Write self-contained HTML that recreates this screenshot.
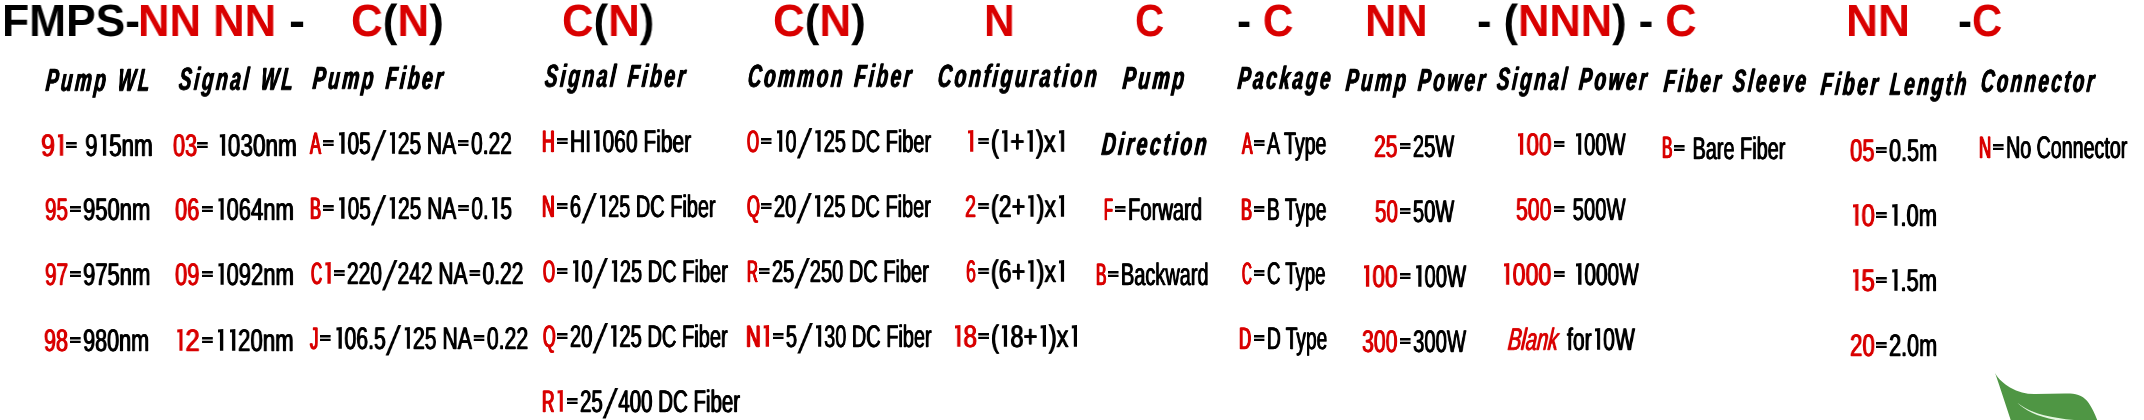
<!DOCTYPE html>
<html><head><meta charset="utf-8"><title>Ordering Information</title><style>
html,body{margin:0;padding:0;background:#fff}
#pg{text-rendering:geometricPrecision;position:relative;width:2144px;height:420px;overflow:hidden;background:#fff;font-family:"Liberation Sans",sans-serif;color:#000}
#pg span{position:absolute;white-space:nowrap;transform-origin:0 0;line-height:1.2;will-change:transform}
.r{color:#d90000;font-style:inherit;font-weight:inherit}
.t{font-size:45px;font-weight:bold}
.h{font-size:31.98px;-webkit-text-stroke-width:0.3px;text-shadow:0.8px 0 0,-0.8px 0 0;letter-spacing:4.5px;word-spacing:3px;font-weight:bold;font-style:italic}
.b,.br,.bri{font-size:31.1px;-webkit-text-stroke-width:0.4px;text-shadow:0.7px 0 0,-0.7px 0 0;}
.brc{font-size:30.96px;-webkit-text-stroke-width:0.5px;text-shadow:1.2px 0 0,-1.2px 0 0;}
.br,.bri,.brc{color:#d90000}
.bri{font-style:italic}
.e{display:inline-block;height:6.1px;vertical-align:8px;fill:currentColor;overflow:visible}
.o{display:inline-block;height:21.8px;vertical-align:0;fill:currentColor;overflow:visible}
.s{display:inline-block;height:30.4px;vertical-align:-6.2px;fill:currentColor;overflow:visible}
</style></head>
<body><div id="pg">
<svg style="position:absolute;left:0;top:0" width="2144" height="420" viewBox="0 0 2144 420">
<path d="M1995.1 373.1C1998 379 2004 384 2010 387.5C2018 392 2026 394 2034 394.1C2046 394.2 2058 393.3 2070 393.6C2078 393.8 2084.5 397 2088.7 403C2092 408 2095 414 2097.6 421L2011 421C2006.5 407 2001 390.5 1995.1 373.1Z" fill="#4f9644"/>
<path d="M2017.3 402.8C2025 409 2034 412.6 2044 415.2C2054 417.6 2064 419 2076 420.2L2076 421.5L2062 421C2050 419.5 2040 416.5 2032 412.8C2026 410 2021 406.5 2017.3 402.8Z" fill="#e4f6e0"/>
</svg>
<span class="t" style="left:2.02px;top:-6.10px;transform:scaleX(0.9858)">FMPS-</span>
<span class="t" style="left:137.82px;top:-6.10px;transform:scaleX(0.9693)"><b class="r">NN NN</b></span>
<span class="t" style="left:288.85px;top:-6.10px;transform:scaleX(1.0731)">-</span>
<span class="t" style="left:350.68px;top:-6.10px;transform:scaleX(0.9770)"><b class="r">C</b>(<b class="r">N</b>)</span>
<span class="t" style="left:562.19px;top:-6.10px;transform:scaleX(0.9715)"><b class="r">C</b>(<b class="r">N</b>)</span>
<span class="t" style="left:772.93px;top:-6.10px;transform:scaleX(0.9770)"><b class="r">C</b>(<b class="r">N</b>)</span>
<span class="t" style="left:984.40px;top:-6.10px;transform:scaleX(0.9454)"><b class="r">N</b></span>
<span class="t" style="left:1134.58px;top:-6.10px;transform:scaleX(0.8991)"><b class="r">C</b></span>
<span class="t" style="left:1236.59px;top:-6.10px;transform:scaleX(0.9404)">- <b class="r">C</b></span>
<span class="t" style="left:1365.34px;top:-6.10px;transform:scaleX(0.9628)"><b class="r">NN</b></span>
<span class="t" style="left:1476.54px;top:-6.10px;transform:scaleX(0.9653)">- (<b class="r">NNN</b>) - <b class="r">C</b></span>
<span class="t" style="left:1846.28px;top:-6.10px;transform:scaleX(0.9840)"><b class="r">NN</b></span>
<span class="t" style="left:1957.60px;top:-6.10px;transform:scaleX(0.9314)">-<b class="r">C</b></span>
<span class="h" style="left:47.95px;top:60.65px;transform:scaleX(0.5841) skewX(-9deg)">Pump WL</span>
<span class="h" style="left:181.03px;top:60.45px;transform:scaleX(0.5893) skewX(-9deg)">Signal WL</span>
<span class="h" style="left:315.28px;top:58.65px;transform:scaleX(0.5913) skewX(-9deg)">Pump Fiber</span>
<span class="h" style="left:546.95px;top:56.55px;transform:scaleX(0.5950) skewX(-9deg)">Signal Fiber</span>
<span class="h" style="left:750.19px;top:57.05px;transform:scaleX(0.5864) skewX(-9deg)">Common Fiber</span>
<span class="h" style="left:940.34px;top:56.65px;transform:scaleX(0.6024) skewX(-9deg)">Configuration</span>
<span class="h" style="left:1125.02px;top:59.25px;transform:scaleX(0.5980) skewX(-9deg)">Pump</span>
<span class="h" style="left:1239.98px;top:58.55px;transform:scaleX(0.5907) skewX(-9deg)">Package</span>
<span class="h" style="left:1347.56px;top:61.15px;transform:scaleX(0.5858) skewX(-9deg)">Pump Power</span>
<span class="h" style="left:1499.43px;top:59.65px;transform:scaleX(0.5908) skewX(-9deg)">Signal Power</span>
<span class="h" style="left:1665.67px;top:62.25px;transform:scaleX(0.5892) skewX(-9deg)">Fiber Sleeve</span>
<span class="h" style="left:1823.48px;top:65.05px;transform:scaleX(0.5903) skewX(-9deg)">Fiber Length</span>
<span class="h" style="left:1982.76px;top:62.35px;transform:scaleX(0.5768) skewX(-9deg)">Connector</span>
<span class="h" style="left:1104.32px;top:124.95px;transform:scaleX(0.5991) skewX(-9deg)">Direction</span>
<span class="br" style="left:41.41px;top:126.55px;transform:scaleX(0.8008)">9<svg class="o" style="width:6.6px;margin:0 3.7px 0 4.0px" viewBox="0 0 5.3 21.8" preserveAspectRatio="none"><path d="M0 .5L5.3 0V21.8H2.1V3.3L0 3.6z"/></svg></span>
<span class="b" style="left:64.09px;top:126.55px;transform:scaleX(0.7199)"><svg class="e" style="width:14.7px;margin:0 3.3px 0 2.8px" viewBox="0 0 10 6.1" preserveAspectRatio="none"><path d="M0 0h10v2.4H0zM0 3.7h10v2.4H0z"/></svg> 9<svg class="o" style="width:7.4px;margin:0 4.2px 0 4.4px" viewBox="0 0 5.3 21.8" preserveAspectRatio="none"><path d="M0 .5L5.3 0V21.8H2.1V3.3L0 3.6z"/></svg>5nm</span>
<span class="br" style="left:44.51px;top:191.30px;transform:scaleX(0.6627)">95</span>
<span class="b" style="left:67.88px;top:191.30px;transform:scaleX(0.7082)"><svg class="e" style="width:15.0px;margin:0 3.4px 0 2.8px" viewBox="0 0 10 6.1" preserveAspectRatio="none"><path d="M0 0h10v2.4H0zM0 3.7h10v2.4H0z"/></svg>950nm</span>
<span class="br" style="left:44.51px;top:256.30px;transform:scaleX(0.6660)">97</span>
<span class="b" style="left:67.88px;top:256.30px;transform:scaleX(0.7082)"><svg class="e" style="width:15.0px;margin:0 3.4px 0 2.8px" viewBox="0 0 10 6.1" preserveAspectRatio="none"><path d="M0 0h10v2.4H0zM0 3.7h10v2.4H0z"/></svg>975nm</span>
<span class="br" style="left:44.49px;top:322.05px;transform:scaleX(0.6936)">98</span>
<span class="b" style="left:67.92px;top:322.05px;transform:scaleX(0.6942)"><svg class="e" style="width:15.3px;margin:0 3.5px 0 2.9px" viewBox="0 0 10 6.1" preserveAspectRatio="none"><path d="M0 0h10v2.4H0zM0 3.7h10v2.4H0z"/></svg>980nm</span>
<span class="br" style="left:172.64px;top:126.55px;transform:scaleX(0.6972)">03</span>
<span class="b" style="left:195.32px;top:126.55px;transform:scaleX(0.7266)"><svg class="e" style="width:14.6px;margin:0 3.3px 0 2.8px" viewBox="0 0 10 6.1" preserveAspectRatio="none"><path d="M0 0h10v2.4H0zM0 3.7h10v2.4H0z"/></svg> <svg class="o" style="width:7.3px;margin:0 4.1px 0 4.4px" viewBox="0 0 5.3 21.8" preserveAspectRatio="none"><path d="M0 .5L5.3 0V21.8H2.1V3.3L0 3.6z"/></svg>030nm</span>
<span class="br" style="left:175.39px;top:191.30px;transform:scaleX(0.7043)">06</span>
<span class="b" style="left:199.62px;top:191.30px;transform:scaleX(0.7084)"><svg class="e" style="width:15.0px;margin:0 3.4px 0 2.8px" viewBox="0 0 10 6.1" preserveAspectRatio="none"><path d="M0 0h10v2.4H0zM0 3.7h10v2.4H0z"/></svg><svg class="o" style="width:7.5px;margin:0 4.2px 0 4.5px" viewBox="0 0 5.3 21.8" preserveAspectRatio="none"><path d="M0 .5L5.3 0V21.8H2.1V3.3L0 3.6z"/></svg>064nm</span>
<span class="br" style="left:175.39px;top:256.30px;transform:scaleX(0.7062)">09</span>
<span class="b" style="left:199.62px;top:256.30px;transform:scaleX(0.7084)"><svg class="e" style="width:15.0px;margin:0 3.4px 0 2.8px" viewBox="0 0 10 6.1" preserveAspectRatio="none"><path d="M0 0h10v2.4H0zM0 3.7h10v2.4H0z"/></svg><svg class="o" style="width:7.5px;margin:0 4.2px 0 4.5px" viewBox="0 0 5.3 21.8" preserveAspectRatio="none"><path d="M0 .5L5.3 0V21.8H2.1V3.3L0 3.6z"/></svg>092nm</span>
<span class="br" style="left:174.21px;top:322.05px;transform:scaleX(0.8220)"><svg class="o" style="width:6.4px;margin:0 3.6px 0 3.9px" viewBox="0 0 5.3 21.8" preserveAspectRatio="none"><path d="M0 .5L5.3 0V21.8H2.1V3.3L0 3.6z"/></svg>2</span>
<span class="b" style="left:199.60px;top:322.05px;transform:scaleX(0.7151)"><svg class="e" style="width:14.8px;margin:0 3.4px 0 2.8px" viewBox="0 0 10 6.1" preserveAspectRatio="none"><path d="M0 0h10v2.4H0zM0 3.7h10v2.4H0z"/></svg><svg class="o" style="width:7.4px;margin:0 4.2px 0 4.5px" viewBox="0 0 5.3 21.8" preserveAspectRatio="none"><path d="M0 .5L5.3 0V21.8H2.1V3.3L0 3.6z"/></svg><svg class="o" style="width:7.4px;margin:0 4.2px 0 4.5px" viewBox="0 0 5.3 21.8" preserveAspectRatio="none"><path d="M0 .5L5.3 0V21.8H2.1V3.3L0 3.6z"/></svg>20nm</span>
<span class="brc" style="left:310.49px;top:124.50px;transform:scaleX(0.5325)">A</span>
<span class="b" style="left:320.98px;top:124.55px;transform:scaleX(0.6742)"><svg class="e" style="width:15.7px;margin:0 3.6px 0 3.0px" viewBox="0 0 10 6.1" preserveAspectRatio="none"><path d="M0 0h10v2.4H0zM0 3.7h10v2.4H0z"/></svg><svg class="o" style="width:7.9px;margin:0 4.4px 0 4.7px" viewBox="0 0 5.3 21.8" preserveAspectRatio="none"><path d="M0 .5L5.3 0V21.8H2.1V3.3L0 3.6z"/></svg>05<svg class="s" style="width:23.1px" viewBox="0 0 23.1 30.4"><path d="M0 30.4H4.6L23.1 0H18.5z"/></svg><svg class="o" style="width:7.9px;margin:0 4.4px 0 4.7px" viewBox="0 0 5.3 21.8" preserveAspectRatio="none"><path d="M0 .5L5.3 0V21.8H2.1V3.3L0 3.6z"/></svg>25 NA<svg class="e" style="width:15.7px;margin:0 3.6px 0 3.0px" viewBox="0 0 10 6.1" preserveAspectRatio="none"><path d="M0 0h10v2.4H0zM0 3.7h10v2.4H0z"/></svg>0.22</span>
<span class="brc" style="left:310.05px;top:189.50px;transform:scaleX(0.5303)">B</span>
<span class="b" style="left:321.23px;top:189.55px;transform:scaleX(0.6729)"><svg class="e" style="width:15.8px;margin:0 3.6px 0 3.0px" viewBox="0 0 10 6.1" preserveAspectRatio="none"><path d="M0 0h10v2.4H0zM0 3.7h10v2.4H0z"/></svg><svg class="o" style="width:7.9px;margin:0 4.5px 0 4.8px" viewBox="0 0 5.3 21.8" preserveAspectRatio="none"><path d="M0 .5L5.3 0V21.8H2.1V3.3L0 3.6z"/></svg>05<svg class="s" style="width:23.2px" viewBox="0 0 23.2 30.4"><path d="M0 30.4H4.6L23.2 0H18.6z"/></svg><svg class="o" style="width:7.9px;margin:0 4.5px 0 4.8px" viewBox="0 0 5.3 21.8" preserveAspectRatio="none"><path d="M0 .5L5.3 0V21.8H2.1V3.3L0 3.6z"/></svg>25 NA<svg class="e" style="width:15.8px;margin:0 3.6px 0 3.0px" viewBox="0 0 10 6.1" preserveAspectRatio="none"><path d="M0 0h10v2.4H0zM0 3.7h10v2.4H0z"/></svg>0.<svg class="o" style="width:7.9px;margin:0 4.5px 0 4.8px" viewBox="0 0 5.3 21.8" preserveAspectRatio="none"><path d="M0 .5L5.3 0V21.8H2.1V3.3L0 3.6z"/></svg>5</span>
<span class="brc" style="left:310.57px;top:254.50px;transform:scaleX(0.4959)">C<svg class="o" style="width:10.7px;margin:0 6.0px 0 6.5px" viewBox="0 0 5.3 21.8" preserveAspectRatio="none"><path d="M0 .5L5.3 0V21.8H2.1V3.3L0 3.6z"/></svg></span>
<span class="b" style="left:332.48px;top:254.55px;transform:scaleX(0.6741)"><svg class="e" style="width:15.7px;margin:0 3.6px 0 3.0px" viewBox="0 0 10 6.1" preserveAspectRatio="none"><path d="M0 0h10v2.4H0zM0 3.7h10v2.4H0z"/></svg>220<svg class="s" style="width:23.1px" viewBox="0 0 23.1 30.4"><path d="M0 30.4H4.6L23.1 0H18.5z"/></svg>242 NA<svg class="e" style="width:15.7px;margin:0 3.6px 0 3.0px" viewBox="0 0 10 6.1" preserveAspectRatio="none"><path d="M0 0h10v2.4H0zM0 3.7h10v2.4H0z"/></svg>0.22</span>
<span class="brc" style="left:309.77px;top:319.50px;transform:scaleX(0.5360)">J</span>
<span class="b" style="left:317.95px;top:319.55px;transform:scaleX(0.6826)"><svg class="e" style="width:15.5px;margin:0 3.5px 0 2.9px" viewBox="0 0 10 6.1" preserveAspectRatio="none"><path d="M0 0h10v2.4H0zM0 3.7h10v2.4H0z"/></svg><svg class="o" style="width:7.8px;margin:0 4.4px 0 4.7px" viewBox="0 0 5.3 21.8" preserveAspectRatio="none"><path d="M0 .5L5.3 0V21.8H2.1V3.3L0 3.6z"/></svg>06.5<svg class="s" style="width:22.9px" viewBox="0 0 22.9 30.4"><path d="M0 30.4H4.5L22.9 0H18.3z"/></svg><svg class="o" style="width:7.8px;margin:0 4.4px 0 4.7px" viewBox="0 0 5.3 21.8" preserveAspectRatio="none"><path d="M0 .5L5.3 0V21.8H2.1V3.3L0 3.6z"/></svg>25 NA<svg class="e" style="width:15.5px;margin:0 3.5px 0 2.9px" viewBox="0 0 10 6.1" preserveAspectRatio="none"><path d="M0 0h10v2.4H0zM0 3.7h10v2.4H0z"/></svg>0.22</span>
<span class="brc" style="left:542.25px;top:122.50px;transform:scaleX(0.5692)">H</span>
<span class="b" style="left:555.22px;top:122.55px;transform:scaleX(0.6750)"><svg class="e" style="width:15.7px;margin:0 3.6px 0 3.0px" viewBox="0 0 10 6.1" preserveAspectRatio="none"><path d="M0 0h10v2.4H0zM0 3.7h10v2.4H0z"/></svg>HI<svg class="o" style="width:7.9px;margin:0 4.4px 0 4.7px" viewBox="0 0 5.3 21.8" preserveAspectRatio="none"><path d="M0 .5L5.3 0V21.8H2.1V3.3L0 3.6z"/></svg>060 Fiber</span>
<span class="brc" style="left:542.25px;top:187.50px;transform:scaleX(0.5692)">N</span>
<span class="b" style="left:555.33px;top:187.55px;transform:scaleX(0.6412)"><svg class="e" style="width:16.5px;margin:0 3.7px 0 3.1px" viewBox="0 0 10 6.1" preserveAspectRatio="none"><path d="M0 0h10v2.4H0zM0 3.7h10v2.4H0z"/></svg>6<svg class="s" style="width:24.3px" viewBox="0 0 24.3 30.4"><path d="M0 30.4H4.8L24.3 0H19.5z"/></svg><svg class="o" style="width:8.3px;margin:0 4.7px 0 5.0px" viewBox="0 0 5.3 21.8" preserveAspectRatio="none"><path d="M0 .5L5.3 0V21.8H2.1V3.3L0 3.6z"/></svg>25 DC Fiber</span>
<span class="brc" style="left:542.86px;top:252.50px;transform:scaleX(0.4997)">O</span>
<span class="b" style="left:555.31px;top:252.55px;transform:scaleX(0.6450)"><svg class="e" style="width:16.4px;margin:0 3.7px 0 3.1px" viewBox="0 0 10 6.1" preserveAspectRatio="none"><path d="M0 0h10v2.4H0zM0 3.7h10v2.4H0z"/></svg><svg class="o" style="width:8.2px;margin:0 4.7px 0 5.0px" viewBox="0 0 5.3 21.8" preserveAspectRatio="none"><path d="M0 .5L5.3 0V21.8H2.1V3.3L0 3.6z"/></svg>0<svg class="s" style="width:24.2px" viewBox="0 0 24.2 30.4"><path d="M0 30.4H4.8L24.2 0H19.4z"/></svg><svg class="o" style="width:8.2px;margin:0 4.7px 0 5.0px" viewBox="0 0 5.3 21.8" preserveAspectRatio="none"><path d="M0 .5L5.3 0V21.8H2.1V3.3L0 3.6z"/></svg>25 DC Fiber</span>
<span class="brc" style="left:542.86px;top:317.50px;transform:scaleX(0.5212)">Q</span>
<span class="b" style="left:555.31px;top:317.55px;transform:scaleX(0.6459)"><svg class="e" style="width:16.4px;margin:0 3.7px 0 3.1px" viewBox="0 0 10 6.1" preserveAspectRatio="none"><path d="M0 0h10v2.4H0zM0 3.7h10v2.4H0z"/></svg>20<svg class="s" style="width:24.2px" viewBox="0 0 24.2 30.4"><path d="M0 30.4H4.8L24.2 0H19.4z"/></svg><svg class="o" style="width:8.2px;margin:0 4.6px 0 5.0px" viewBox="0 0 5.3 21.8" preserveAspectRatio="none"><path d="M0 .5L5.3 0V21.8H2.1V3.3L0 3.6z"/></svg>25 DC Fiber</span>
<span class="brc" style="left:542.27px;top:382.50px;transform:scaleX(0.5543)">R<svg class="o" style="width:9.6px;margin:0 5.4px 0 5.8px" viewBox="0 0 5.3 21.8" preserveAspectRatio="none"><path d="M0 .5L5.3 0V21.8H2.1V3.3L0 3.6z"/></svg></span>
<span class="b" style="left:565.27px;top:382.55px;transform:scaleX(0.6585)"><svg class="e" style="width:16.1px;margin:0 3.6px 0 3.0px" viewBox="0 0 10 6.1" preserveAspectRatio="none"><path d="M0 0h10v2.4H0zM0 3.7h10v2.4H0z"/></svg>25<svg class="s" style="width:23.7px" viewBox="0 0 23.7 30.4"><path d="M0 30.4H4.7L23.7 0H19.0z"/></svg>400 DC Fiber</span>
<span class="brc" style="left:746.61px;top:122.50px;transform:scaleX(0.4997)">O</span>
<span class="b" style="left:759.08px;top:122.55px;transform:scaleX(0.6406)"><svg class="e" style="width:16.5px;margin:0 3.7px 0 3.1px" viewBox="0 0 10 6.1" preserveAspectRatio="none"><path d="M0 0h10v2.4H0zM0 3.7h10v2.4H0z"/></svg><svg class="o" style="width:8.3px;margin:0 4.7px 0 5.0px" viewBox="0 0 5.3 21.8" preserveAspectRatio="none"><path d="M0 .5L5.3 0V21.8H2.1V3.3L0 3.6z"/></svg>0<svg class="s" style="width:24.4px" viewBox="0 0 24.4 30.4"><path d="M0 30.4H4.8L24.4 0H19.5z"/></svg><svg class="o" style="width:8.3px;margin:0 4.7px 0 5.0px" viewBox="0 0 5.3 21.8" preserveAspectRatio="none"><path d="M0 .5L5.3 0V21.8H2.1V3.3L0 3.6z"/></svg>25 DC Fiber</span>
<span class="brc" style="left:746.61px;top:187.50px;transform:scaleX(0.5319)">Q</span>
<span class="b" style="left:759.07px;top:187.55px;transform:scaleX(0.6418)"><svg class="e" style="width:16.5px;margin:0 3.7px 0 3.1px" viewBox="0 0 10 6.1" preserveAspectRatio="none"><path d="M0 0h10v2.4H0zM0 3.7h10v2.4H0z"/></svg>20<svg class="s" style="width:24.3px" viewBox="0 0 24.3 30.4"><path d="M0 30.4H4.8L24.3 0H19.5z"/></svg><svg class="o" style="width:8.3px;margin:0 4.7px 0 5.0px" viewBox="0 0 5.3 21.8" preserveAspectRatio="none"><path d="M0 .5L5.3 0V21.8H2.1V3.3L0 3.6z"/></svg>25 DC Fiber</span>
<span class="brc" style="left:746.61px;top:252.50px;transform:scaleX(0.4878)">R</span>
<span class="b" style="left:757.32px;top:252.55px;transform:scaleX(0.6437)"><svg class="e" style="width:16.5px;margin:0 3.7px 0 3.1px" viewBox="0 0 10 6.1" preserveAspectRatio="none"><path d="M0 0h10v2.4H0zM0 3.7h10v2.4H0z"/></svg>25<svg class="s" style="width:24.2px" viewBox="0 0 24.2 30.4"><path d="M0 30.4H4.8L24.2 0H19.4z"/></svg>250 DC Fiber</span>
<span class="brc" style="left:746.39px;top:317.50px;transform:scaleX(0.6513)">N<svg class="o" style="width:8.1px;margin:0 4.6px 0 4.9px" viewBox="0 0 5.3 21.8" preserveAspectRatio="none"><path d="M0 .5L5.3 0V21.8H2.1V3.3L0 3.6z"/></svg></span>
<span class="b" style="left:771.08px;top:317.55px;transform:scaleX(0.6412)"><svg class="e" style="width:16.5px;margin:0 3.7px 0 3.1px" viewBox="0 0 10 6.1" preserveAspectRatio="none"><path d="M0 0h10v2.4H0zM0 3.7h10v2.4H0z"/></svg>5<svg class="s" style="width:24.3px" viewBox="0 0 24.3 30.4"><path d="M0 30.4H4.8L24.3 0H19.5z"/></svg><svg class="o" style="width:8.3px;margin:0 4.7px 0 5.0px" viewBox="0 0 5.3 21.8" preserveAspectRatio="none"><path d="M0 .5L5.3 0V21.8H2.1V3.3L0 3.6z"/></svg>30 DC Fiber</span>
<span class="br" style="left:964.70px;top:122.55px;transform:scaleX(1.0000)"><svg class="o" style="width:5.3px;margin:0 3.0px 0 3.2px" viewBox="0 0 5.3 21.8" preserveAspectRatio="none"><path d="M0 .5L5.3 0V21.8H2.1V3.3L0 3.6z"/></svg></span>
<span class="b" style="left:975.70px;top:122.55px;transform:scaleX(0.7677)"><svg class="e" style="width:13.8px;margin:0 3.1px 0 2.6px" viewBox="0 0 10 6.1" preserveAspectRatio="none"><path d="M0 0h10v2.4H0zM0 3.7h10v2.4H0z"/></svg>(<svg class="o" style="width:6.9px;margin:0 3.9px 0 4.2px" viewBox="0 0 5.3 21.8" preserveAspectRatio="none"><path d="M0 .5L5.3 0V21.8H2.1V3.3L0 3.6z"/></svg>+<svg class="o" style="width:6.9px;margin:0 3.9px 0 4.2px" viewBox="0 0 5.3 21.8" preserveAspectRatio="none"><path d="M0 .5L5.3 0V21.8H2.1V3.3L0 3.6z"/></svg>)x<svg class="o" style="width:6.9px;margin:0 3.9px 0 4.2px" viewBox="0 0 5.3 21.8" preserveAspectRatio="none"><path d="M0 .5L5.3 0V21.8H2.1V3.3L0 3.6z"/></svg></span>
<span class="br" style="left:965.48px;top:187.55px;transform:scaleX(0.6385)">2</span>
<span class="b" style="left:975.76px;top:187.55px;transform:scaleX(0.7466)"><svg class="e" style="width:14.2px;margin:0 3.2px 0 2.7px" viewBox="0 0 10 6.1" preserveAspectRatio="none"><path d="M0 0h10v2.4H0zM0 3.7h10v2.4H0z"/></svg>(2+<svg class="o" style="width:7.1px;margin:0 4.0px 0 4.3px" viewBox="0 0 5.3 21.8" preserveAspectRatio="none"><path d="M0 .5L5.3 0V21.8H2.1V3.3L0 3.6z"/></svg>)x<svg class="o" style="width:7.1px;margin:0 4.0px 0 4.3px" viewBox="0 0 5.3 21.8" preserveAspectRatio="none"><path d="M0 .5L5.3 0V21.8H2.1V3.3L0 3.6z"/></svg></span>
<span class="br" style="left:966.01px;top:252.55px;transform:scaleX(0.5719)">6</span>
<span class="b" style="left:975.76px;top:252.55px;transform:scaleX(0.7466)"><svg class="e" style="width:14.2px;margin:0 3.2px 0 2.7px" viewBox="0 0 10 6.1" preserveAspectRatio="none"><path d="M0 0h10v2.4H0zM0 3.7h10v2.4H0z"/></svg>(6+<svg class="o" style="width:7.1px;margin:0 4.0px 0 4.3px" viewBox="0 0 5.3 21.8" preserveAspectRatio="none"><path d="M0 .5L5.3 0V21.8H2.1V3.3L0 3.6z"/></svg>)x<svg class="o" style="width:7.1px;margin:0 4.0px 0 4.3px" viewBox="0 0 5.3 21.8" preserveAspectRatio="none"><path d="M0 .5L5.3 0V21.8H2.1V3.3L0 3.6z"/></svg></span>
<span class="br" style="left:951.67px;top:317.55px;transform:scaleX(0.7696)"><svg class="o" style="width:6.9px;margin:0 3.9px 0 4.2px" viewBox="0 0 5.3 21.8" preserveAspectRatio="none"><path d="M0 .5L5.3 0V21.8H2.1V3.3L0 3.6z"/></svg>8</span>
<span class="b" style="left:975.72px;top:317.55px;transform:scaleX(0.7595)"><svg class="e" style="width:14.0px;margin:0 3.2px 0 2.6px" viewBox="0 0 10 6.1" preserveAspectRatio="none"><path d="M0 0h10v2.4H0zM0 3.7h10v2.4H0z"/></svg>(<svg class="o" style="width:7.0px;margin:0 3.9px 0 4.2px" viewBox="0 0 5.3 21.8" preserveAspectRatio="none"><path d="M0 .5L5.3 0V21.8H2.1V3.3L0 3.6z"/></svg>8+<svg class="o" style="width:7.0px;margin:0 3.9px 0 4.2px" viewBox="0 0 5.3 21.8" preserveAspectRatio="none"><path d="M0 .5L5.3 0V21.8H2.1V3.3L0 3.6z"/></svg>)x<svg class="o" style="width:7.0px;margin:0 3.9px 0 4.2px" viewBox="0 0 5.3 21.8" preserveAspectRatio="none"><path d="M0 .5L5.3 0V21.8H2.1V3.3L0 3.6z"/></svg></span>
<span class="brc" style="left:1103.63px;top:190.55px;transform:scaleX(0.4690)">F</span>
<span class="b" style="left:1113.05px;top:190.60px;transform:scaleX(0.6496)"><svg class="e" style="width:16.3px;margin:0 3.7px 0 3.1px" viewBox="0 0 10 6.1" preserveAspectRatio="none"><path d="M0 0h10v2.4H0zM0 3.7h10v2.4H0z"/></svg>Forward</span>
<span class="brc" style="left:1095.59px;top:255.65px;transform:scaleX(0.5037)">B</span>
<span class="b" style="left:1106.33px;top:255.70px;transform:scaleX(0.6416)"><svg class="e" style="width:16.5px;margin:0 3.7px 0 3.1px" viewBox="0 0 10 6.1" preserveAspectRatio="none"><path d="M0 0h10v2.4H0zM0 3.7h10v2.4H0z"/></svg>Backward</span>
<span class="brc" style="left:1241.72px;top:125.35px;transform:scaleX(0.5080)">A</span>
<span class="b" style="left:1252.31px;top:125.40px;transform:scaleX(0.6288)"><svg class="e" style="width:16.9px;margin:0 3.8px 0 3.2px" viewBox="0 0 10 6.1" preserveAspectRatio="none"><path d="M0 0h10v2.4H0zM0 3.7h10v2.4H0z"/></svg>A Type</span>
<span class="brc" style="left:1240.55px;top:191.05px;transform:scaleX(0.5303)">B</span>
<span class="b" style="left:1252.24px;top:191.10px;transform:scaleX(0.6189)"><svg class="e" style="width:17.1px;margin:0 3.9px 0 3.2px" viewBox="0 0 10 6.1" preserveAspectRatio="none"><path d="M0 0h10v2.4H0zM0 3.7h10v2.4H0z"/></svg>B Type</span>
<span class="brc" style="left:1241.74px;top:255.25px;transform:scaleX(0.4368)">C</span>
<span class="b" style="left:1252.21px;top:255.30px;transform:scaleX(0.5962)"><svg class="e" style="width:17.8px;margin:0 4.0px 0 3.4px" viewBox="0 0 10 6.1" preserveAspectRatio="none"><path d="M0 0h10v2.4H0zM0 3.7h10v2.4H0z"/></svg>C Type</span>
<span class="brc" style="left:1239.29px;top:320.25px;transform:scaleX(0.5415)">D</span>
<span class="b" style="left:1252.25px;top:320.30px;transform:scaleX(0.6160)"><svg class="e" style="width:17.2px;margin:0 3.9px 0 3.2px" viewBox="0 0 10 6.1" preserveAspectRatio="none"><path d="M0 0h10v2.4H0zM0 3.7h10v2.4H0z"/></svg>D Type</span>
<span class="br" style="left:1373.95px;top:128.10px;transform:scaleX(0.6794)">25</span>
<span class="b" style="left:1398.06px;top:128.10px;transform:scaleX(0.6454)"><svg class="e" style="width:16.4px;margin:0 3.7px 0 3.1px" viewBox="0 0 10 6.1" preserveAspectRatio="none"><path d="M0 0h10v2.4H0zM0 3.7h10v2.4H0z"/></svg>25W</span>
<span class="br" style="left:1374.52px;top:193.10px;transform:scaleX(0.6612)">50</span>
<span class="b" style="left:1398.06px;top:193.10px;transform:scaleX(0.6454)"><svg class="e" style="width:16.4px;margin:0 3.7px 0 3.1px" viewBox="0 0 10 6.1" preserveAspectRatio="none"><path d="M0 0h10v2.4H0zM0 3.7h10v2.4H0z"/></svg>50W</span>
<span class="br" style="left:1360.85px;top:258.10px;transform:scaleX(0.7255)"><svg class="o" style="width:7.3px;margin:0 4.1px 0 4.4px" viewBox="0 0 5.3 21.8" preserveAspectRatio="none"><path d="M0 .5L5.3 0V21.8H2.1V3.3L0 3.6z"/></svg>00</span>
<span class="b" style="left:1398.05px;top:258.10px;transform:scaleX(0.6510)"><svg class="e" style="width:16.3px;margin:0 3.7px 0 3.1px" viewBox="0 0 10 6.1" preserveAspectRatio="none"><path d="M0 0h10v2.4H0zM0 3.7h10v2.4H0z"/></svg><svg class="o" style="width:8.1px;margin:0 4.6px 0 4.9px" viewBox="0 0 5.3 21.8" preserveAspectRatio="none"><path d="M0 .5L5.3 0V21.8H2.1V3.3L0 3.6z"/></svg>00W</span>
<span class="br" style="left:1361.99px;top:323.10px;transform:scaleX(0.6826)">300</span>
<span class="b" style="left:1398.04px;top:323.10px;transform:scaleX(0.6536)"><svg class="e" style="width:16.2px;margin:0 3.7px 0 3.1px" viewBox="0 0 10 6.1" preserveAspectRatio="none"><path d="M0 0h10v2.4H0zM0 3.7h10v2.4H0z"/></svg>300W</span>
<span class="br" style="left:1515.10px;top:125.80px;transform:scaleX(0.7255)"><svg class="o" style="width:7.3px;margin:0 4.1px 0 4.4px" viewBox="0 0 5.3 21.8" preserveAspectRatio="none"><path d="M0 .5L5.3 0V21.8H2.1V3.3L0 3.6z"/></svg>00</span>
<span class="b" style="left:1551.80px;top:125.80px;transform:scaleX(0.6490)"><svg class="e" style="width:16.3px;margin:0 3.7px 0 3.1px" viewBox="0 0 10 6.1" preserveAspectRatio="none"><path d="M0 0h10v2.4H0zM0 3.7h10v2.4H0z"/></svg> <svg class="o" style="width:8.2px;margin:0 4.6px 0 4.9px" viewBox="0 0 5.3 21.8" preserveAspectRatio="none"><path d="M0 .5L5.3 0V21.8H2.1V3.3L0 3.6z"/></svg>00W</span>
<span class="br" style="left:1516.25px;top:190.80px;transform:scaleX(0.6823)">500</span>
<span class="b" style="left:1551.80px;top:190.80px;transform:scaleX(0.6511)"><svg class="e" style="width:16.3px;margin:0 3.7px 0 3.1px" viewBox="0 0 10 6.1" preserveAspectRatio="none"><path d="M0 0h10v2.4H0zM0 3.7h10v2.4H0z"/></svg> 500W</span>
<span class="br" style="left:1501.26px;top:255.80px;transform:scaleX(0.7481)"><svg class="o" style="width:7.1px;margin:0 4.0px 0 4.3px" viewBox="0 0 5.3 21.8" preserveAspectRatio="none"><path d="M0 .5L5.3 0V21.8H2.1V3.3L0 3.6z"/></svg>000</span>
<span class="b" style="left:1551.74px;top:255.80px;transform:scaleX(0.6707)"><svg class="e" style="width:15.8px;margin:0 3.6px 0 3.0px" viewBox="0 0 10 6.1" preserveAspectRatio="none"><path d="M0 0h10v2.4H0zM0 3.7h10v2.4H0z"/></svg> <svg class="o" style="width:7.9px;margin:0 4.5px 0 4.8px" viewBox="0 0 5.3 21.8" preserveAspectRatio="none"><path d="M0 .5L5.3 0V21.8H2.1V3.3L0 3.6z"/></svg>000W</span>
<span class="bri" style="left:1510.28px;top:320.80px;transform:scaleX(0.6431) skewX(-8deg)">Blank</span>
<span class="b" style="left:1566.96px;top:320.80px;transform:scaleX(0.6790)">for<svg class="o" style="width:7.8px;margin:0 4.4px 0 4.7px" viewBox="0 0 5.3 21.8" preserveAspectRatio="none"><path d="M0 .5L5.3 0V21.8H2.1V3.3L0 3.6z"/></svg>0W</span>
<span class="brc" style="left:1661.84px;top:129.45px;transform:scaleX(0.5037)">B</span>
<span class="b" style="left:1671.98px;top:129.50px;transform:scaleX(0.6401)"><svg class="e" style="width:16.6px;margin:0 3.7px 0 3.1px" viewBox="0 0 10 6.1" preserveAspectRatio="none"><path d="M0 0h10v2.4H0zM0 3.7h10v2.4H0z"/></svg> Bare Fiber</span>
<span class="br" style="left:1850.38px;top:132.30px;transform:scaleX(0.7107)">05</span>
<span class="b" style="left:1874.17px;top:132.30px;transform:scaleX(0.6945)"><svg class="e" style="width:15.3px;margin:0 3.5px 0 2.9px" viewBox="0 0 10 6.1" preserveAspectRatio="none"><path d="M0 0h10v2.4H0zM0 3.7h10v2.4H0z"/></svg>0.5m</span>
<span class="br" style="left:1849.91px;top:197.30px;transform:scaleX(0.7726)"><svg class="o" style="width:6.9px;margin:0 3.9px 0 4.1px" viewBox="0 0 5.3 21.8" preserveAspectRatio="none"><path d="M0 .5L5.3 0V21.8H2.1V3.3L0 3.6z"/></svg>0</span>
<span class="b" style="left:1874.14px;top:197.30px;transform:scaleX(0.7029)"><svg class="e" style="width:15.1px;margin:0 3.4px 0 2.8px" viewBox="0 0 10 6.1" preserveAspectRatio="none"><path d="M0 0h10v2.4H0zM0 3.7h10v2.4H0z"/></svg><svg class="o" style="width:7.5px;margin:0 4.3px 0 4.6px" viewBox="0 0 5.3 21.8" preserveAspectRatio="none"><path d="M0 .5L5.3 0V21.8H2.1V3.3L0 3.6z"/></svg>.0m</span>
<span class="br" style="left:1849.89px;top:262.30px;transform:scaleX(0.7770)"><svg class="o" style="width:6.8px;margin:0 3.9px 0 4.1px" viewBox="0 0 5.3 21.8" preserveAspectRatio="none"><path d="M0 .5L5.3 0V21.8H2.1V3.3L0 3.6z"/></svg>5</span>
<span class="b" style="left:1874.14px;top:262.30px;transform:scaleX(0.7029)"><svg class="e" style="width:15.1px;margin:0 3.4px 0 2.8px" viewBox="0 0 10 6.1" preserveAspectRatio="none"><path d="M0 0h10v2.4H0zM0 3.7h10v2.4H0z"/></svg><svg class="o" style="width:7.5px;margin:0 4.3px 0 4.6px" viewBox="0 0 5.3 21.8" preserveAspectRatio="none"><path d="M0 .5L5.3 0V21.8H2.1V3.3L0 3.6z"/></svg>.5m</span>
<span class="br" style="left:1850.17px;top:327.10px;transform:scaleX(0.7156)">20</span>
<span class="b" style="left:1874.17px;top:327.10px;transform:scaleX(0.6945)"><svg class="e" style="width:15.3px;margin:0 3.5px 0 2.9px" viewBox="0 0 10 6.1" preserveAspectRatio="none"><path d="M0 0h10v2.4H0zM0 3.7h10v2.4H0z"/></svg>2.0m</span>
<span class="brc" style="left:1978.54px;top:129.25px;transform:scaleX(0.5439)">N</span>
<span class="b" style="left:1991.10px;top:129.30px;transform:scaleX(0.6318)"><svg class="e" style="width:16.8px;margin:0 3.8px 0 3.2px" viewBox="0 0 10 6.1" preserveAspectRatio="none"><path d="M0 0h10v2.4H0zM0 3.7h10v2.4H0z"/></svg>No Connector</span>
</div></body></html>
